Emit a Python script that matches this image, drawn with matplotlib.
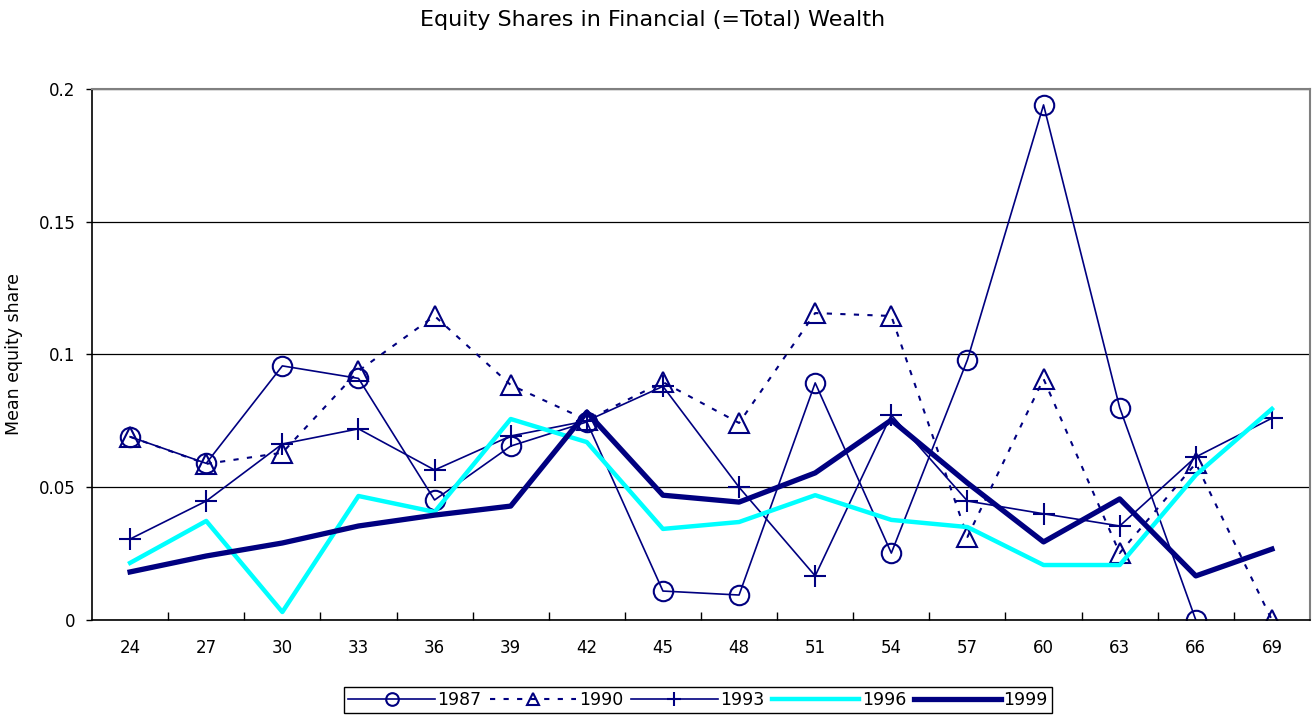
import numpy as np
import matplotlib
matplotlib.use('Agg')
import matplotlib.pyplot as plt
from matplotlib.ticker import FixedLocator, NullFormatter

ages = [24, 27, 30, 33, 36, 39, 42, 45, 48, 51, 54, 57, 60, 63, 66, 69]

# 1987 has no value at 69
y1987 = [0.069, 0.059, 0.0957, 0.091, 0.0452, 0.0655, 0.0746, 0.0109, 0.0094,
         0.0893, 0.0252, 0.098, 0.194, 0.080, 0.0, np.nan]
y1990 = [0.069, 0.0588, 0.063, 0.0938, 0.1145, 0.0885, 0.0753, 0.0896, 0.0742,
         0.1156, 0.1145, 0.0313, 0.0908, 0.0252, 0.059, 0.0]
y1993 = [0.0305, 0.0448, 0.0663, 0.072, 0.0565, 0.0693, 0.075, 0.088, 0.050,
         0.0166, 0.0772, 0.0448, 0.040, 0.0354, 0.0614, 0.076]
y1996 = [0.0215, 0.0373, 0.003, 0.0467, 0.0407, 0.0757, 0.067, 0.0343, 0.0369,
         0.047, 0.0377, 0.035, 0.0207, 0.0207, 0.0546, 0.0795]
y1999 = [0.0181, 0.0241, 0.029, 0.0354, 0.0395, 0.0429, 0.0783, 0.047, 0.0444,
         0.0554, 0.0753, 0.0516, 0.0294, 0.0456, 0.0166, 0.0267]

navy = '#000080'
cyan = '#00FFFF'

plt.rcParams['font.family'] = ['DejaVu Sans']

fig = plt.figure(figsize=(13.13, 7.21), dpi=100)
ax = fig.add_axes([0.0701, 0.1401, 0.9276, 0.7365])

x = np.arange(len(ages))

ax.plot(x, y1987, color=navy, lw=1.2, marker='o', ms=14, mfc='none', mew=1.5, label='1987')
ax.plot(x, y1990, color=navy, lw=1.5, ls=(0, (2.5, 4)), marker='^', ms=14, mfc='none', mew=1.5,
        label='1990')
ax.plot(x, y1993, color=navy, lw=1.2, marker='+', ms=16, mew=1.5, label='1993')
ax.plot(x, y1996, color=cyan, lw=3.2, label='1996')
ax.plot(x, y1999, color=navy, lw=3.8, label='1999')

ax.set_xlim(-0.5, len(ages) - 0.5)
ax.set_ylim(0, 0.2)
ax.set_yticks([0, 0.05, 0.1, 0.15, 0.2])
ax.set_yticklabels(['0', '0.05', '0.1', '0.15', '0.2'], fontsize=12)
ax.yaxis.grid(True, color='black', lw=0.9)
ax.set_axisbelow(True)

ax.set_xticks(x)
ax.set_xticklabels([str(a) for a in ages], fontsize=12)
ax.tick_params(axis='x', which='major', length=0, pad=14)
ax.xaxis.set_minor_locator(FixedLocator(np.arange(0.5, len(ages) - 0.5, 1.0)))
ax.xaxis.set_minor_formatter(NullFormatter())
ax.tick_params(axis='x', which='minor', direction='in', length=6, width=1, color='black')
ax.tick_params(axis='y', direction='out', length=4, width=1, pad=8)

for side in ['left', 'bottom']:
    ax.spines[side].set_color('black')
    ax.spines[side].set_linewidth(1.2)
for side in ['top', 'right']:
    ax.spines[side].set_color('#808080')
    ax.spines[side].set_linewidth(1.5)

ax.set_ylabel('Mean equity share', fontsize=12.5, labelpad=11)

fig.text(0.497, 0.972, 'Equity Shares in Financial (=Total) Wealth', ha='center', va='center',
         fontsize=16)

leg = fig.legend(loc='center', bbox_to_anchor=(0.5316, 0.029), ncol=5, fontsize=12.5,
                 handlelength=5.0, handletextpad=0.15, columnspacing=0.45, borderpad=0.25,
                 markerscale=0.65, fancybox=False, framealpha=1, edgecolor='black')
leg.get_frame().set_linewidth(1.0)

fig.savefig('out.png', dpi=100)
